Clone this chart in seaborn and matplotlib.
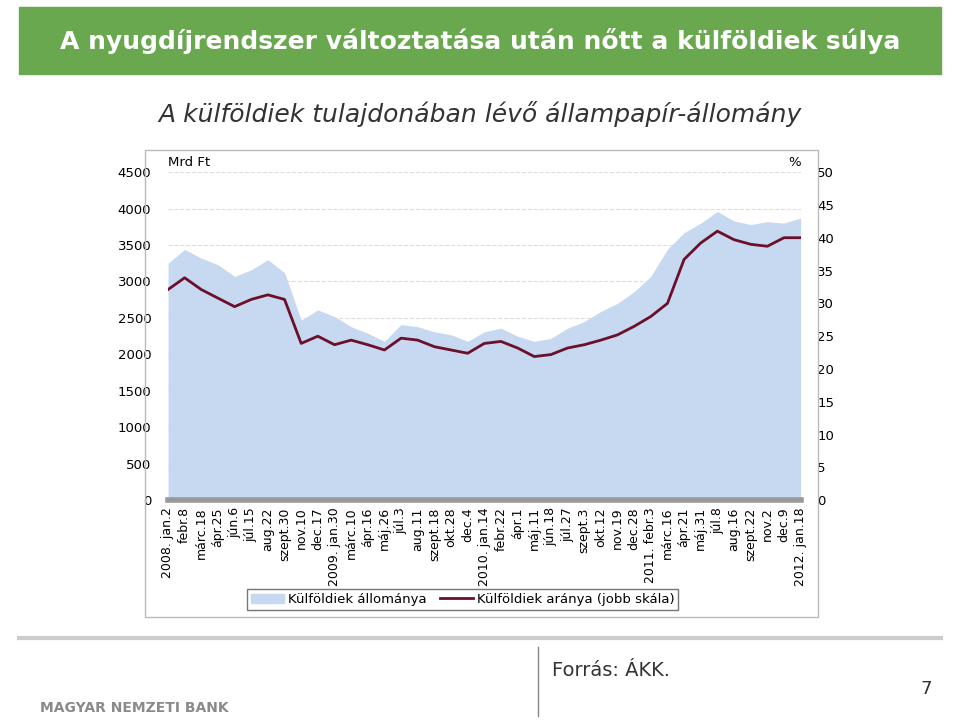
import matplotlib.pyplot as plt
import matplotlib.patches as mpatches
from matplotlib.lines import Line2D
import pandas as pd
import seaborn as sns

tick_labels = ['2008. jan.2', 'febr.8', 'márc.18', 'ápr.25', 'jún.6', 'júl.15', 'aug.22', 'szept.30',
               'nov.10', 'dec.17', '2009. jan.30', 'márc.10', 'ápr.16', 'máj.26', 'júl.3', 'aug.11',
               'szept.18', 'okt.28', 'dec.4', '2010. jan.14', 'febr.22', 'ápr.1', 'máj.11', 'jún.18',
               'júl.27', 'szept.3', 'okt.12', 'nov.19', 'dec.28', '2011. febr.3', 'márc.16', 'ápr.21',
               'máj.31', 'júl.8', 'aug.16', 'szept.22', 'nov.2', 'dec.9', '2012. jan.18']
# holdings, Mrd Ft (read at each tick)
allomany = [3250, 3440, 3320, 3230, 3070, 3160, 3300, 3120, 2470, 2610, 2520, 2380, 2290,
            2180, 2410, 2380, 2310, 2270, 2180, 2310, 2360, 2250, 2180, 2220, 2360, 2450,
            2590, 2700, 2860, 3070, 3440, 3670, 3800, 3960, 3830, 3780, 3820, 3800, 3870]
# share, % (right axis)
arany = [32.1, 33.9, 32.1, 30.8, 29.5, 30.6, 31.3, 30.6, 23.9, 25.0, 23.7, 24.4, 23.7,
         22.9, 24.7, 24.4, 23.4, 22.9, 22.4, 23.9, 24.2, 23.2, 21.9, 22.2, 23.2, 23.7,
         24.4, 25.2, 26.5, 28.0, 30.0, 36.7, 39.2, 41.0, 39.7, 39.0, 38.7, 40.0, 40.0]

df = pd.DataFrame({'x': range(len(tick_labels)), 'allomany': allomany, 'arany': arany})

plt.rcParams['font.family'] = 'DejaVu Sans'
fig = plt.figure(figsize=(9.6, 7.23), dpi=100)

# title banner
fig.patches.append(mpatches.Rectangle((0.02, 0.897), 0.96, 0.093, transform=fig.transFigure,
                                      color='#6aa84f', zorder=0))
fig.text(0.5, 0.943, 'A nyugdíjrendszer változtatása után nőtt a külföldiek súlya', ha='center',
         va='center', color='white', fontsize=18, weight='bold')
fig.text(0.5, 0.842, 'A külföldiek tulajdonában lévő állampapír-állomány', ha='center',
         va='center', fontsize=18, style='italic', color='#333333')

# chart frame
fig.patches.append(mpatches.Rectangle((0.151, 0.147), 0.701, 0.646, transform=fig.transFigure,
                                      fill=False, edgecolor='#bbbbbb', lw=1))

ax = fig.add_axes([0.175, 0.308, 0.659, 0.454])
ax.fill_between(df['x'], df['allomany'], color='#c6d9f0', lw=0)
ax.set_ylim(0, 4500)
ax.set_xlim(0, len(tick_labels) - 1)
ax.set_yticks(range(0, 4501, 500))
ax.tick_params(axis='y', length=0, labelsize=9.5, pad=12)
ax.grid(axis='y', linestyle='--', color='#dddddd', lw=0.8)
ax.set_axisbelow(True)
ax.set_xticks(df['x'])
ax.set_xticklabels(tick_labels, rotation=90, fontsize=9)
ax.tick_params(axis='x', length=0, pad=5)
for s in ['left', 'right', 'top']:
    ax.spines[s].set_visible(False)
ax.spines['bottom'].set_color('#999999')
ax.spines['bottom'].set_linewidth(4)
ax.set_xlabel('')
ax.set_ylabel('')
ax.text(0.0, 1.01, 'Mrd Ft', transform=ax.transAxes, fontsize=9.5, va='bottom', ha='left')

ax2 = ax.twinx()
sns.lineplot(data=df, x='x', y='arany', ax=ax2, color='#6b0f2a', lw=2)
ax2.set_ylim(0, 50)
ax2.set_yticks(range(0, 51, 5))
ax2.tick_params(axis='y', length=0, labelsize=9.5, pad=12)
for s in ax2.spines.values():
    s.set_visible(False)
ax2.set_xlabel('')
ax2.set_ylabel('')
ax2.text(1.0, 1.01, '%', transform=ax.transAxes, fontsize=9.5, va='bottom', ha='right')

handles = [mpatches.Patch(color='#c6d9f0', label='Külföldiek állománya'),
           Line2D([], [], color='#6b0f2a', lw=2, label='Külföldiek aránya (jobb skála)')]
fig.legend(handles=handles, loc='center', bbox_to_anchor=(0.482, 0.171), ncol=2, fontsize=9.5,
           frameon=True, edgecolor='#555555', fancybox=False, handlelength=2.5, borderpad=0.3,
           columnspacing=1.0, handletextpad=0.3)

# footer
fig.add_artist(Line2D([0.02, 0.98], [0.118, 0.118], transform=fig.transFigure, color='#cccccc', lw=3))
fig.text(0.14, 0.015, 'MAGYAR NEMZETI BANK', ha='center', fontsize=10, weight='bold', color='#8a8a8a')
fig.text(0.575, 0.065, 'Forrás: ÁKK.', fontsize=14, color='#333333')
fig.text(0.965, 0.04, '7', fontsize=13, color='#333333', ha='center')
fig.add_artist(Line2D([0.56, 0.56], [0.01, 0.105], transform=fig.transFigure, color='#888888', lw=1))

fig.savefig('out.png', dpi=100)
